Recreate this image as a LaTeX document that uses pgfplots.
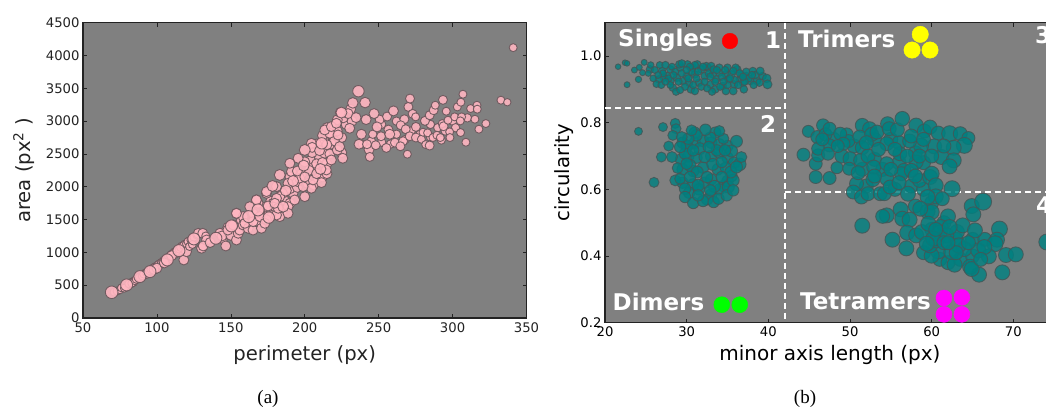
\documentclass[border=0pt]{standalone}
\usepackage{pgfplots}
\usepackage{pgfplotstable}
\usepackage{fontspec}
\pgfplotsset{compat=1.18}
\setmainfont{DejaVu Sans}
\newfontfamily\capfont{Liberation Serif}
\definecolor{bggray}{RGB}{128,128,128}
\definecolor{pinkf}{RGB}{255,182,193}
\definecolor{pinke}{RGB}{105,85,90}
\definecolor{tealf}{RGB}{0,128,128}
\definecolor{teale}{RGB}{70,85,85}
\definecolor{axc}{RGB}{35,35,35}
\definecolor{pyel}{RGB}{255,255,0}
\definecolor{pgrn}{RGB}{0,255,0}
\definecolor{pmag}{RGB}{255,0,255}
\definecolor{pred}{RGB}{255,0,0}
\pgfplotstableread[row sep=\\]{
x y s\\
82 525 4.5\\ 84 550 4.5\\ 87 600 4.5\\ 89 620 4.5\\ 92 675 4.5\\ 94 695 4.5\\ 97 745 4.5\\ 99 775 4.5\\ 102 820 4.5\\ 105 875 4.5\\
107 900 4.5\\ 110 965 4.5\\ 112 1000 4.5\\ 114 1030 4.5\\ 117 1090 4.5\\ 119 1120 4.5\\ 122 1170 4.5\\ 124 1200 4.5\\ 126 1240 4.5\\ 93 670 4.5\\
103 830 4.5\\ 108 905 4.5\\ 112 975 4.5\\ 115 1020 4.5\\
145 1300 5\\ 148 1380 5\\ 152 1350 5\\ 155 1420 5\\ 157 1480 5\\ 160 1470 5\\ 163 1450 5\\ 166 1520 5\\ 169 1480 5\\ 172 1600 5\\
176 1620 5\\ 178 1560 5\\ 177 1780 5\\ 182 1780 5\\ 185 1640 5\\ 186 1800 5\\ 190 1750 5\\ 192 1900 5\\ 190 1970 5\\ 195 1990 5\\
185 1900 5\\ 190 2150 5\\ 195 2080 5\\ 198 2200 5\\ 202 2050 5\\ 206 2030 5\\ 209 2130 5\\ 212 2150 5\\ 204 2400 5\\ 200 2380 5\\
210 2450 5\\ 215 2350 5\\ 213 2700 5\\ 218 2650 5\\ 225 2520 5\\ 208 2650 5\\ 205 2520 5\\ 215 2900 5\\ 225 2750 5\\ 228 2950 5\\
232 3000 5\\ 220 2900 5\\ 218 2800 5\\ 226 3050 5\\ 222 3020 5\\ 231 3180 5\\
245 2700 4.2\\ 252 2680 4.2\\ 258 2650 4.2\\ 262 2800 4.2\\ 268 2720 4.2\\ 272 2850 4.2\\ 278 2800 4.2\\ 285 2760 4.2\\ 285 2950 4.2\\ 290 2900 4.2\\
295 2850 4.2\\ 300 3000 4.2\\ 302 2900 4.2\\ 310 3050 4.2\\ 262 3000 4.2\\ 252 2950 4.2\\ 246 2800 4.2\\ 239 2650 4.2\\
71 395 4\\ 73 410 4\\ 75 430 4\\ 76 460 4\\ 78 455 4\\ 81 520 4\\ 83 530 4\\ 85 570 4\\ 86 590 4\\ 88 620 4\\
90 640 4\\ 91 670 4\\ 93 690 4\\ 95 720 4\\ 96 740 4\\ 98 770 4\\ 100 790 4\\ 101 815 4\\ 103 845 4\\ 104 860 4\\
106 890 4\\ 108 930 4\\ 109 950 4\\ 111 985 4\\ 113 1010 4\\ 115 1050 4\\ 116 1075 4\\ 118 1105 4\\ 120 1130 4\\ 121 1165 4\\
123 1185 4\\ 125 1230 4\\ 127 1265 4\\ 128 1290 5\\ 131 1290 5\\ 133 1250 4\\ 118.2 885 5\\ 120 1010 5\\ 122 1090 4\\ 124 1120 4\\
98 740 5\\ 100 760 5\\ 105 840 5\\ 110 950 5\\ 130.2 1063 5\\ 133.6 1189 5\\ 131.3 1098 5\\ 136 1150 5\\ 142.6 1291 5\\ 144.8 1190 4\\
144 1250 5\\ 146.6 1098 5\\ 150 1260 5\\ 153.8 1189 5\\ 155 1291 5\\ 156 1340 5\\ 148 1340 5\\ 153.8 1595 5\\ 151.6 1418 5\\ 158.3 1418 5\\
158.3 1545 5\\ 161.7 1367 5\\ 165 1340 5\\ 167.3 1468 5\\ 170.7 1367 5\\ 165.1 1595 5\\ 174 1500 5\\ 168.5 1748 5\\ 167.3 1799 5\\ 178.6 1748 5\\
183.1 1545 5\\ 174.1 1900 5\\ 180.9 2002 5\\ 183.1 1850 5\\ 188.7 1697 5\\ 174.1 1697 5\\ 179.7 1697 5\\ 175.2 1707 5\\ 167.3 1799 5\\ 162.8 1697 5\\
159.5 1443 5\\ 153.8 1595 5\\ 165.1 1468 5\\ 169.6 1545 5\\ 180.9 1570 5\\ 188.7 1595 5\\ 173 1443 5\\ 182 1672 5\\ 180.9 1824 5\\ 179.7 1748 5\\
193.2 1799 5\\ 200 1849 5\\ 204.5 1977 5\\ 211.3 2063 5\\ 205.6 2104 5\\ 196.6 2129 5\\ 188.7 2053 5\\ 174.1 1926 5\\ 198.9 2002 5\\ 191 2231 5\\
195.5 2434 5\\ 189.9 2358 5\\ 204.5 2662 5\\ 213.5 2510 5\\ 206 2300 5\\ 203 2250 5\\ 208 2350 5\\ 195 2240 5\\ 200 2150 5\\ 208 2200 5\\
212 2370 5\\ 217 2500 5\\ 222 2560 5\\ 220 2700 5\\ 212 2780 5\\ 205 2600 5\\ 210 2550 5\\ 215 2640 5\\ 222 2850 5\\ 215 2200 5\\
218 2408 5\\ 225.7 2434 5\\ 223.6 2612 5\\ 216.9 2815 5\\ 213.5 2866 5\\ 218 2917 5\\ 222.5 2789 5\\ 221.4 2967 5\\ 230.4 2891 5\\ 214.6 2256 5\\
229.3 3115 5\\ 234.7 3054 5\\ 224.1 3131 5\\ 241.5 3024 5\\ 250.7 3024 4.5\\ 255.7 3070 4.5\\ 260 3156 5\\ 246.9 3115 5\\ 240.8 3283 5.3\\ 232.5 3278 5.3\\
248.9 2912 5\\ 238.3 2800 5\\ 236.7 2648 5\\ 243.5 2567 5\\ 244 2455 4.5\\ 248 2633 4.5\\ 242.1 2648 4.5\\ 255.2 2592 4.5\\ 251.6 2770 4.5\\ 256.6 2871 4.5\\
257.5 2800 5\\ 261 2673 4.5\\ 266.5 2694 4.5\\ 264.7 2617 4.5\\ 269.4 2496 4\\ 267.4 3029 4.5\\ 264.9 2937 4.5\\ 268.3 2877 4.5\\ 270.1 3217 4.5\\ 271.2 3344 4.5\\
273 3110 4.5\\ 275 3065 4\\ 275.2 2912 4.5\\ 271 2770 4.5\\ 275.2 2750 4.5\\ 278.9 2724 4\\ 280 2831 4\\ 283.1 2821 4\\ 281.3 3004 4.5\\ 284.5 3090 4.5\\
287.2 3166 4.5\\ 288.3 3242 4\\ 293.5 3324 4.5\\ 281.8 2643 4\\ 284.5 2628 4.5\\ 286.7 2750 4\\ 289.4 2785 4\\ 292.4 2709 4\\ 291.7 2750 4\\ 293 2963 4\\
293.9 2922 4.5\\ 295.7 3151 4\\ 298 2836 4\\ 298.2 2750 4\\ 296.9 3014 4\\ 301.4 3065 4\\ 303.2 3217 4\\ 305.6 3288 4\\ 307 3410 4\\ 306.1 3065 4\\
305.2 3004 4\\ 305.4 2826 4\\ 309 2678 4\\ 312.2 3192 4\\ 316.5 3242 4\\ 316.7 3182 4\\ 315.1 3029 4\\ 317.8 2877 4\\ 322.5 2963 4\\ 332.7 3319 4\\
337 3288 3.7\\ 341 4120 4\\
69.4 392 6.3\\ 79.5 504 6\\ 88.5 631 6\\ 95.3 707 6\\ 107 885 6\\ 114.9 1027 6\\ 125 1205 6\\ 139.9 1215 6\\ 150.4 1403 6\\ 162.1 1545 6\\
168.4 1647 6\\ 175.7 1530 5.7\\ 185.4 1697 5.5\\ 178.2 2012 5.5\\ 187.2 1941 5.5\\ 192.1 2088 5.5\\ 183.1 2180 5.5\\ 199.3 2322 5.5\\ 210.6 2271 5.5\\ 200 2561 5.5\\
211.5 2662 5.7\\ 224.8 3130 5.5\\ 236.3 3456 5.7\\
}\leftdata
\pgfplotstableread[row sep=\\]{
x y s\\
27 .955 3.8\\ 27.6 .94 3.8\\ 28 .96 3.8\\ 28.8 .935 3.8\\ 29.2 .965 3.8\\ 29.6 .925 3.8\\ 30 .94 3.8\\ 30.3 .92 3.8\\ 30.7 .965 3.8\\ 31 .945 3.8\\
31.5 .92 3.8\\ 31.8 .96 3.8\\ 32.2 .94 3.8\\ 32.6 .965 3.8\\ 32.9 .915 3.8\\ 33.2 .945 3.8\\ 33.6 .93 3.8\\ 34 .95 3.8\\ 34.4 .91 3.8\\ 34.8 .945 3.8\\
35.1 .93 3.8\\ 35.5 .945 3.8\\ 35.8 .915 3.8\\ 36.2 .96 3.8\\ 36.5 .93 3.8\\ 36.9 .92 3.8\\ 37.3 .94 3.8\\ 37.8 .925 3.8\\ 38.1 .955 3.8\\ 38.6 .925 3.8\\
39.3 .94 3.8\\ 38.9 .92 3.8\\ 29.1 .975 3.8\\ 30.1 .975 3.8\\ 31.3 .975 3.8\\ 32.4 .97 3.8\\ 33 .97 3.8\\ 34 .965 3.8\\ 35 .965 3.8\\ 36 .965 3.8\\
28 .925 3.8\\ 27.2 .935 3.8\\ 26.6 .93 3.8\\ 25.5 .96 3.8\\ 28.3 .905 3.8\\ 30.5 .90 3.8\\ 31 .895 3.8\\ 33.5 .90 3.8\\ 34.8 .895 3.8\\ 37 .90 3.8\\
29.5 .74 5.7\\ 30.1 .73 5.7\\ 31 .74 5.7\\ 32 .745 5.7\\ 33 .74 5.7\\ 34 .735 5.7\\ 35 .73 5.7\\ 29.3 .69 5.7\\ 30.2 .70 5.7\\ 31.2 .695 5.7\\
33 .70 5.7\\ 34 .71 5.7\\ 35 .695 5.7\\ 35.8 .68 5.7\\ 29.5 .66 5.7\\ 30.8 .655 5.7\\ 32 .665 5.7\\ 33.8 .66 5.7\\ 34.8 .665 5.7\\ 29.5 .62 5.7\\
30.8 .615 5.7\\ 32.2 .62 5.7\\ 33 .63 5.7\\ 34.5 .61 5.7\\ 35.5 .64 5.7\\ 30.3 .59 5.7\\ 31.5 .60 5.7\\ 33 .585 5.7\\ 34 .60 5.7\\ 35 .625 5.7\\
32.5 .57 5.7\\ 30 .73 5.7\\ 31 .77 5.7\\ 33.5 .77 5.7\\
50.5 .73 7\\ 53 .75 7\\ 55 .75 7\\ 56 .74 7\\ 58 .71 7\\ 59 .68 7\\ 56 .68 7\\ 53 .69 7\\ 51.5 .66 7\\ 54 .66 7\\
52 .61 7\\ 55.5 .60 7\\ 57.5 .61 7\\ 59 .60 7\\ 48 .75 7\\ 49 .70 7\\ 60 .48 7\\ 61.5 .50 7\\ 63 .45 7\\ 65 .45 7\\
59 .41 7\\ 61 .39 7\\ 63.5 .39 7\\ 65 .40 7\\ 66.5 .45 7\\ 62 .38 7\\ 58 .55 7\\ 60 .56 7\\
21.6 .968 2.8\\ 22.45 .98 2.8\\ 22.7 .978 2.8\\ 22.7 .914 3\\ 23.6 .958 3\\ 24.1 .930 3.2\\ 24.8 .981 3\\ 24.2 .966 3\\ 24.6 .950 3\\ 25.3 .948 3\\
25.6 .973 3.3\\ 26.3 .916 3.5\\ 26.1 .958 3.5\\ 26.7 .973 3.5\\ 27.1 .948 3.5\\ 27.4 .973 3.7\\ 26.9 .913 3.5\\ 27.8 .933 3.5\\ 28.2 .968 3.5\\ 28.6 .953 3.5\\
28.7 .893 3.7\\ 29 .923 3.7\\ 29.4 .978 3.7\\ 29.4 .948 3.7\\ 29.8 .908 3.7\\ 30.2 .933 3.7\\ 30.6 .953 3.7\\ 31 .973 3.7\\ 31.2 .933 3.7\\ 31.8 .908 3.7\\
32 .968 3.7\\ 32.7 .948 3.7\\ 33.1 .893 3.7\\ 33.3 .960 3.7\\ 33.5 .923 3.7\\ 34.1 .908 3.7\\ 34.3 .938 3.7\\ 34.7 .958 3.7\\ 35 .913 3.7\\ 35.7 .955 3.7\\
35.7 .895 3.9\\ 35.9 .928 3.7\\ 36.7 .943 3.7\\ 37.3 .953 3.7\\ 37.6 .933 3.7\\ 38.2 .913 3.7\\ 38.4 .943 3.9\\ 39 .955 4\\ 39.8 .933 4.3\\ 39.9 .915 4.5\\
25.9 .933 3.4\\ 26.5 .943 3.4\\ 28 .913 3.5\\ 28.4 .943 3.5\\ 30.4 .968 3.6\\ 30.8 .913 3.6\\ 32.2 .923 3.6\\ 32.9 .938 3.6\\ 33.7 .958 3.6\\ 35.3 .933 3.6\\
36.3 .913 3.7\\ 37.1 .923 3.7\\ 38 .943 3.7\\ 32.5 .903 3.6\\ 31.4 .953 3.6\\ 29.2 .898 3.6\\ 27.4 .923 3.5\\ 30 .958 3.6\\ 34.5 .923 3.6\\ 36.5 .948 3.7\\ 36.9 .938 3.7\\
24.1 .774 4\\ 27.1 .787 4.5\\ 28.6 .798 5\\ 28.7 .782 5\\ 26.9 .697 5\\ 26 .621 5\\ 27.8 .730 5\\ 28.3 .762 5\\ 28.2 .697 5.5\\ 28.9 .664 5.5\\
28.6 .627 5.5\\ 29.2 .632 5.5\\ 29.8 .602 5.7\\ 29.8 .577 5.7\\ 30.8 .559 5.7\\ 32 .565 5.7\\ 33.3 .562 5.7\\ 33.9 .572 5.7\\ 35.1 .607 6\\ 35.7 .627 6\\
36.5 .675 6.3\\ 36.7 .697 5.5\\ 36.1 .744 6\\ 35.5 .715 6\\ 35.4 .652 6\\ 34.5 .752 5.5\\ 34 .775 5.5\\ 32.9 .755 5.7\\ 32.3 .779 5.7\\ 31.2 .762 5.7\\
30.2 .752 5.7\\ 29.4 .757 5.5\\ 30.6 .777 5.5\\ 31.6 .722 6\\ 33.7 .717 5.7\\ 30.4 .672 6\\ 33.2 .675 6\\ 31.3 .652 6\\ 31.4 .612 6\\ 33.4 .609 6\\
29.8 .707 5.7\\ 32.2 .697 5.7\\ 34.3 .682 5.7\\ 29.2 .727 5.7\\ 30.8 .717 5.7\\ 32.5 .637 5.7\\ 34.3 .637 5.7\\ 30.4 .637 5.7\\ 31.4 .582 5.7\\ 34.9 .582 5.7\\
36.1 .667 6\\ 32.9 .597 5.7\\ 30 .677 5.7\\ 32.7 .727 5.7\\ 34.7 .717 5.7\\ 35.7 .597 5.7\\
44.3 .704 6.5\\ 44.9 .774 6\\ 45.8 .677 6.5\\ 46.1 .702 6.5\\ 46 .757 6.5\\ 46.7 .792 6.5\\ 47 .765 6.5\\ 47.5 .782 6.5\\ 47.5 .732 6.5\\ 46.1 .722 6.5\\
47.3 .707 6.5\\ 45.8 .637 6.5\\ 47.5 .634 6.5\\ 48.4 .665 6\\ 49.6 .765 6.5\\ 49.8 .745 6.5\\ 48.8 .767 6.5\\ 49.2 .737 6.5\\ 51.5 .792 7\\ 52.4 .782 7\\
51.2 .757 7\\ 52.65 .765 7\\ 51.5 .725 7\\ 50 .692 7\\ 49.9 .662 6.5\\ 50.8 .617 7\\ 50.4 .592 7\\ 51.4 .577 7\\ 52.2 .587 7\\ 51.3 .687 7\\
52.2 .700 7\\ 52.9 .667 7\\ 52.8 .629 7\\ 53.7 .587 7\\ 54.2 .587 7\\ 53.3 .772 7\\ 54.6 .797 7\\ 54.8 .782 7\\ 55.8 .779 7\\ 56.4 .812 7.3\\
54.5 .737 7\\ 54.5 .677 7\\ 54.5 .632 7\\ 56.1 .707 7\\ 56.6 .657 7\\ 56.3 .647 7\\ 54.9 .607 7\\ 58.1 .792 7.3\\ 59.1 .775 7\\ 59.8 .787 7\\
60.8 .769 7\\ 62.2 .767 8\\ 63.5 .767 7\\ 64.5 .754 6.5\\ 64 .732 8\\ 62.7 .725 7.5\\ 60.3 .729 7.5\\ 58.7 .731 7.5\\ 57.3 .745 7\\ 58.1 .682 7\\
58.5 .627 7\\ 59.8 .637 7.5\\ 60 .647 7.5\\ 60.5 .612 7.5\\ 62.5 .602 8\\ 61.2 .697 7.5\\ 62.7 .687 7.5\\ 62.2 .669 7.5\\ 57.1 .587 7.5\\ 57.5 .657 7\\
60.5 .579 7.5\\ 59.5 .577 7.5\\ 61.3 .572 7\\ 56.2 .540 7.5\\ 54.5 .522 7.5\\ 54 .519 7\\ 56.4 .512 7.5\\ 57.3 .509 7.5\\ 59.5 .534 7.5\\ 60 .532 7.5\\
58.6 .542 7.5\\ 62 .519 7.5\\ 64.9 .550 7.5\\ 66.3 .563 8.5\\ 65.1 .525 7.5\\ 51.5 .491 7.5\\ 55.2 .449 7.5\\ 56.9 .423 7.5\\ 57 .470 7.5\\ 58.1 .462 7.5\\
58.8 .472 7.5\\ 59.6 .497 7.5\\ 61.1 .487 7.5\\ 61 .471 7.5\\ 63.1 .472 7.5\\ 63.8 .492 7.5\\ 65.3 .477 7.5\\ 68.3 .481 8\\ 68 .449 7.5\\ 67.75 .437 8\\
69.1 .403 7.5\\ 70.3 .405 7.5\\ 68.65 .351 7.5\\ 65.8 .344 7.5\\ 64.7 .368 7.5\\ 64.9 .361 7.5\\ 62.8 .374 7.5\\ 60.8 .414 7.5\\ 60 .401 7.5\\ 59.8 .432 7.5\\
62.4 .412 7.5\\ 64 .421 7.5\\ 65.7 .417 7.5\\ 67 .399 7.5\\ 66.45 .427 7.5\\ 63.3 .432 7.5\\ 60.6 .447 7.5\\ 61.8 .462 7.5\\ 60.2 .452 7.5\\ 62.2 .487 7.5\\
59.4 .437 7.5\\ 74.1 .442 8\\ 55.5 .72 7\\ 53.5 .72 7\\ 57 .70 7\\ 58.5 .70 7\\ 53 .64 7\\ 56 .62 7\\ 58 .64 7\\ 51 .65 7\\
60 .70 7\\ 57.5 .76 7\\ 55 .66 7\\ 52 .74 7\\ 59 .75 7\\ 61.5 .73 7\\ 48.5 .73 6.5\\ 46.6 .75 6.5\\ 61.5 .44 7\\ 63 .41 7\\ 64.5 .44 7\\ 62 .44 7\\ 66 .39 7\\ 60.5 .48 7\\
}\rightdata
\pgfplotsset{
 panel/.style={
  scale only axis, axis background/.style={fill=bggray},
  axis line style={axc,line width=1.1pt},
  tick style={axc,line width=.6pt},
  tick align=inside, major tick length=4pt, minor tick length=0pt,
  tick label style={font=\fontsize{13.2}{14}\selectfont,text=axc},
  /pgf/number format/assume math mode=true,
  /pgf/number format/1000 sep={},
 },
 sized/.style={
  scatter, only marks, mark=*,
  visualization depends on={\thisrow{s} \as \ptsize},
 },
}
\begin{document}
\begin{tikzpicture}[x=1pt,y=1pt]
\path[use as bounding box,clip] (0,0) rectangle (1046,407);
\fill[white] (0,0) rectangle (1046,407);
\begin{axis}[panel, at={(83pt,89pt)}, anchor=south west, width=443.5pt, height=295.3pt,
  xmin=50, xmax=350, ymin=0, ymax=4500,
  xtick={50,100,...,350}, ytick={0,500,...,4500},
  xlabel={perimeter (px)}, ylabel={area (px\textsuperscript{2} )},
  xlabel style={font=\fontsize{19.6}{22}\selectfont,text=axc,at={(axis description cs:0.5,0)},anchor=base,yshift=-42pt},
  ylabel style={font=\fontsize{19.6}{22}\selectfont,text=axc,at={(axis description cs:0,0.5)},anchor=base,yshift=52pt},
  xticklabel style={yshift=-1pt},
]
\addplot[sized, scatter/use mapped color={draw=pinke,fill=pinkf,line width=.9pt,opacity=.9,mark size=\ptsize}] table {\leftdata};
\end{axis}
\begin{axis}[panel, at={(605pt,84.3pt)}, anchor=south west, width=490pt, height=300pt,
  xmin=20, xmax=80, ymin=0.2, ymax=1.1,
  xtick={20,30,...,70}, ytick={0.2,0.4,...,1.0},
  yticklabel style={/pgf/number format/fixed,/pgf/number format/fixed zerofill,/pgf/number format/precision=1},
  tick label style={text=black},
  xlabel={minor axis length (px)}, ylabel={circularity},
  xlabel style={font=\fontsize{20}{22}\selectfont,text=black,at={(axis description cs:0.459,0)},anchor=base,yshift=-38pt},
  ylabel style={font=\fontsize{19.6}{22}\selectfont,text=black,at={(axis description cs:0,0.5)},anchor=base,yshift=36pt},
]
\addplot[sized, scatter/use mapped color={draw=teale,fill=tealf,line width=.9pt,opacity=.82,mark size=\ptsize}] table {\rightdata};
\addplot[white,line width=1.3pt,dash pattern=on 6pt off 4pt,forget plot] coordinates {(42.05,1.1) (42.05,0.2)};
\addplot[white,line width=1.3pt,dash pattern=on 6pt off 4pt,forget plot] coordinates {(20,0.844) (42.05,0.844)};
\addplot[white,line width=1.3pt,dash pattern=on 6pt off 4pt,forget plot] coordinates {(42.05,0.592) (80,0.592)};
\addplot[only marks,mark=*,mark size=7.8pt,mark options={fill=pred,draw=pred}] coordinates {(35.3,1.045)};
\addplot[only marks,mark=*,mark size=8.2pt,mark options={fill=pyel,draw=pyel}] coordinates {(58.6,1.065) (57.6,1.018) (59.8,1.018)};
\addplot[only marks,mark=*,mark size=8pt,mark options={fill=pgrn,draw=pgrn}] coordinates {(34.3,0.254) (36.5,0.254)};
\addplot[only marks,mark=*,mark size=8pt,mark options={fill=pmag,draw=pmag}] coordinates {(61.5,0.274) (63.7,0.276) (61.5,0.225) (63.7,0.225)};
\end{axis}
\begin{scope}[every node/.style={anchor=base west,inner sep=0pt,text=white,font=\fontsize{23}{25}\selectfont\bfseries}]
\node at (618,360.3) {Singles};
\node at (798,359.3) {Trimers};
\node at (612.5,96.3) {Dimers};
\node at (800,97) {Tetramers};
\node at (765,358) {1};
\node at (760,274) {2};
\node at (1035,363) {3};
\node at (1036,193) {4};
\end{scope}
\node[font=\fontsize{19}{21}\selectfont\capfont,anchor=base] at (268,4) {(a)};
\node[font=\fontsize{19}{21}\selectfont\capfont,anchor=base] at (805,4) {(b)};
\end{tikzpicture}
\end{document}
